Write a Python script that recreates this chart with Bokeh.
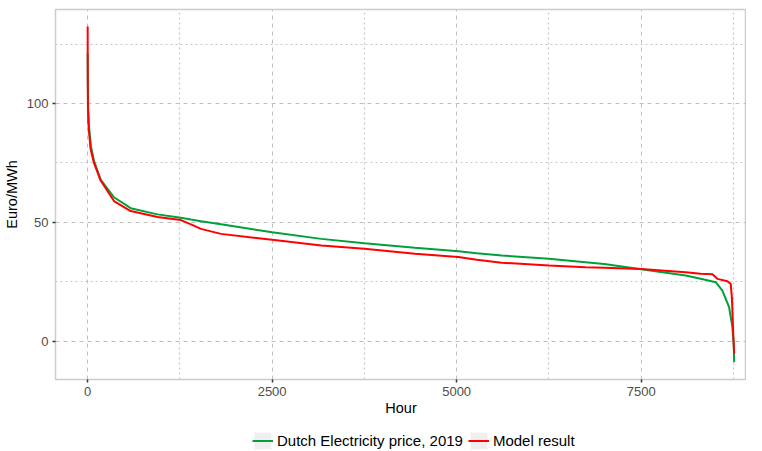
from bokeh.plotting import figure
from bokeh.layouts import column
from bokeh.models import Range1d, FixedTicker, Legend, LegendItem, ColumnDataSource
from bokeh.embed import file_html
from bokeh.resources import INLINE

# Price duration curves (sorted hourly prices)
green_hours = [1, 3, 8, 20, 45, 86, 177, 357, 584, 947, 1264, 1400, 1535, 1807, 2500, 3166,
               3750, 4435, 5023, 5272, 5611, 6250, 6744, 7000, 7500, 8102, 8306, 8510, 8600,
               8691, 8736, 8755, 8760]
green_vals = [121, 108, 98, 90, 82, 76, 68, 60.6, 56, 53.4, 52, 51.2, 50.5, 49.2, 45.9, 43.1,
              41.3, 39.4, 37.9, 37.1, 36.1, 34.7, 33.3, 32.5, 30.3, 27.7, 26.3, 24.9, 21.4,
              14.4, 6, -2, -8.7]

red_hours = [1, 2, 4, 10, 18, 40, 86, 177, 357, 584, 947, 1264, 1400, 1535, 1807, 2500, 3166,
             3750, 4435, 5023, 5272, 5611, 6250, 6744, 7000, 7500, 8102, 8306, 8465, 8533,
             8668, 8713, 8730, 8745, 8760]
red_vals = [132.4, 115, 100, 92, 88.7, 81, 75, 67.6, 59, 54.8, 52.3, 51, 49.2, 47.3, 45.2, 42.7,
            40.3, 38.9, 36.8, 35.5, 34.3, 33.1, 31.9, 31.2, 31, 30.4, 29.1, 28.4, 28.2, 26.3,
            25.3, 24.2, 18, 5, -5.2]

x_major = [0, 2500, 5000, 7500]
x_minor = [1250, 3750, 6250, 8750]
y_major = [0, 50, 100]
y_minor = [25, 75, 125]

series_labels = ["Dutch Electricity price, 2019", "Model result"]
series_colors = ["#00A03A", "#FF0000"]

FONT = "Liberation Sans"

p = figure(width=746, height=430, output_backend="svg", toolbar_location=None,
           x_range=Range1d(-434.8, 8927), y_range=Range1d(-16.0, 139.5),
           min_border_left=47, min_border_right=0, min_border_top=9, min_border_bottom=51)

p.background_fill_color = "white"
p.border_fill_color = "white"
p.outline_line_color = "#CCCCCC"
p.outline_line_width = 1.5

p.xaxis.ticker = FixedTicker(ticks=x_major, minor_ticks=x_minor)
p.yaxis.ticker = FixedTicker(ticks=y_major, minor_ticks=y_minor)

for ax in (p.xaxis, p.yaxis):
    ax.axis_line_color = None
    ax.major_tick_line_color = "#333333"
    ax.major_tick_line_width = 1.5
    ax.major_tick_out = 3
    ax.major_tick_in = 0
    ax.minor_tick_line_color = None
    ax.major_label_text_font = FONT
    ax.major_label_text_font_size = "13px"
    ax.major_label_text_color = "#4D4D4D"
    ax.axis_label_text_font = FONT
    ax.axis_label_text_font_size = "14.5px"
    ax.axis_label_text_font_style = "normal"
    ax.axis_label_text_color = "black"

p.xaxis.axis_label = "Hour"
p.yaxis.axis_label = "Euro/MWh"
p.xaxis.major_label_standoff = 3
p.xaxis.axis_label_standoff = 1
p.yaxis.major_label_standoff = 3
p.yaxis.axis_label_standoff = 4

for g in (p.xgrid, p.ygrid):
    g.grid_line_color = "#BEBEBE"
    g.grid_line_dash = "4 4"
    g.grid_line_width = 1
    g.minor_grid_line_color = "#C8C8C8"
    g.minor_grid_line_dash = "2 3"
    g.minor_grid_line_width = 1.2

src_g = ColumnDataSource(dict(x=green_hours, y=green_vals))
src_r = ColumnDataSource(dict(x=red_hours, y=red_vals))
p.line("x", "y", source=src_g, line_color=series_colors[0], line_width=2)
p.line("x", "y", source=src_r, line_color=series_colors[1], line_width=2)

# ---- legend strip below the chart (its view range shows none of the data) ----
lf = figure(width=746, height=21, output_backend="svg", toolbar_location=None,
            x_axis_location=None, y_axis_location=None,
            x_range=Range1d(0, 1), y_range=Range1d(1000, 1001),
            min_border_left=0, min_border_right=0, min_border_top=0, min_border_bottom=0)
lf.outline_line_color = None
lf.xgrid.visible = False
lf.ygrid.visible = False
lf.background_fill_color = "white"
lf.border_fill_color = "white"

kb = lf.quad(left="x", right="x", bottom="y", top="y", source=src_g,
             fill_color="#EFEFEF", line_color=None)
kg = lf.line("x", "y", source=src_g, line_color=series_colors[0], line_width=2)
kr = lf.line("x", "y", source=src_r, line_color=series_colors[1], line_width=2)

legend = Legend(items=[LegendItem(label=series_labels[0], renderers=[kb, kg]),
                       LegendItem(label=series_labels[1], renderers=[kb, kr])],
                orientation="horizontal", location=(197, 0),
                label_text_font=FONT, label_text_font_size="15px",
                label_text_color="black",
                glyph_width=21, glyph_height=21, label_standoff=4, spacing=5,
                padding=0, margin=0, border_line_color=None,
                background_fill_alpha=0)
lf.add_layout(legend, "center")

layout = column(p, lf, spacing=0)

open("out.html", "w").write(file_html(layout, INLINE))
